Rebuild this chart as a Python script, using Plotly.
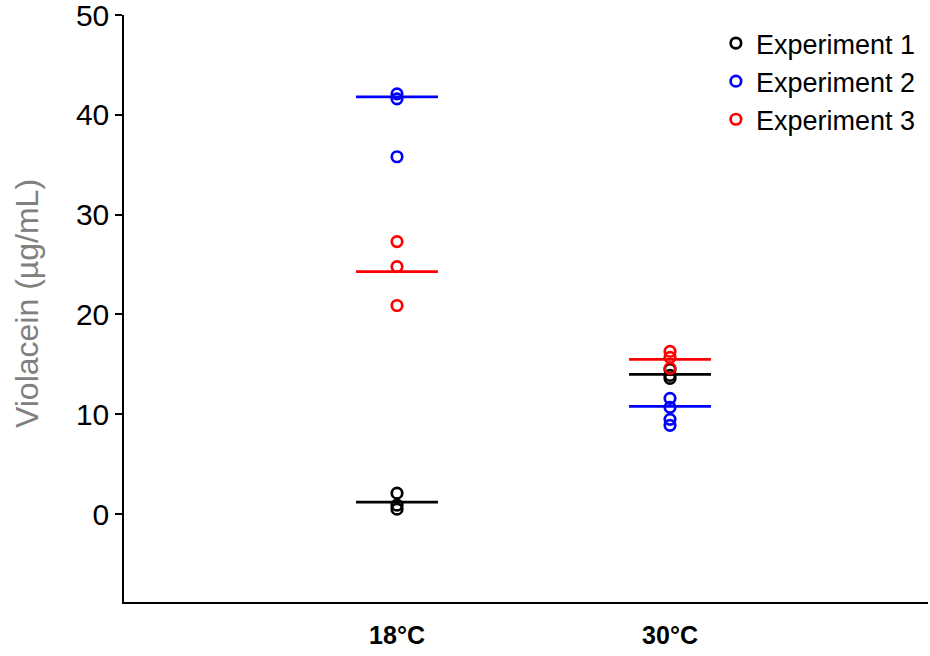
import plotly.graph_objects as go

categories = ["18°C", "30°C"]
cat_pos = [1, 2]

series_names = ["Experiment 1", "Experiment 2", "Experiment 3"]
series_colors = ["#000000", "#0000ff", "#ff0000"]

# individual points per experiment: (category index, value)
exp1_cat = [0, 0, 0, 1, 1, 1]
exp1_val = [2.1, 0.9, 0.5, 14.5, 13.9, 13.6]
exp2_cat = [0, 0, 0, 1, 1, 1, 1]
exp2_val = [42.1, 41.6, 35.8, 11.6, 10.7, 9.5, 8.9]
exp3_cat = [0, 0, 0, 1, 1, 1]
exp3_val = [27.3, 24.8, 20.9, 16.3, 15.7, 14.6]

# horizontal mean bars per experiment (18°C, 30°C)
exp1_mean = [1.2, 14.0]
exp2_mean = [41.8, 10.8]
exp3_mean = [24.3, 15.5]

y_ticks = [0, 10, 20, 30, 40, 50]

cats = [exp1_cat, exp2_cat, exp3_cat]
vals = [exp1_val, exp2_val, exp3_val]
means = [exp1_mean, exp2_mean, exp3_mean]

HALF = 0.15
FONT = "Liberation Sans, Arial, sans-serif"

fig = go.Figure()

for name, color, c, v, m in zip(series_names, series_colors, cats, vals, means):
    for ci, mv in enumerate(m):
        fig.add_trace(go.Scatter(
            x=[cat_pos[ci] - HALF, cat_pos[ci] + HALF], y=[mv, mv],
            mode="lines", line=dict(color=color, width=2.8),
            showlegend=False, hoverinfo="skip"))

for name, color, c, v in zip(series_names, series_colors, cats, vals):
    fig.add_trace(go.Scatter(
        x=[cat_pos[i] for i in c], y=v, mode="markers", name=name,
        marker=dict(symbol="circle-open", size=10.5, color=color,
                    line=dict(width=2.7, color=color))))

fig.update_layout(
    width=930, height=656, autosize=False,
    margin=dict(l=124, r=2, t=15, b=54, autoexpand=False),
    plot_bgcolor="white", paper_bgcolor="white",
    font=dict(family=FONT, color="black"),
    legend=dict(x=0.7362, y=0.9932, xanchor="left", yanchor="top",
                font=dict(size=27, color="black"), bgcolor="rgba(0,0,0,0)",
                tracegroupgap=0, itemwidth=30),
    showlegend=True,
)

fig.update_xaxes(
    range=[0, 2.945], tickvals=cat_pos, ticktext=categories,
    showline=True, linecolor="black", linewidth=1.5,
    showgrid=False, zeroline=False, ticks="", ticklabelstandoff=10,
    tickfont=dict(size=25, family=FONT, color="black", weight="bold"),
)
fig.update_yaxes(
    range=[-8.8, 50], tickvals=y_ticks,
    showline=True, linecolor="black", linewidth=1.5,
    showgrid=False, zeroline=False, ticks="outside", ticklen=7,
    tickwidth=1.5, tickcolor="black", ticklabeloverflow="allow",
    tickfont=dict(size=30, family=FONT, color="black"),
)

fig.add_annotation(
    text="Violacein (µg/mL)", textangle=-90,
    xref="paper", yref="paper", x=-0.1206, y=0.5077,
    xanchor="center", yanchor="middle", showarrow=False,
    font=dict(size=32, family=FONT, color="#808080"))

fig.write_html(
    "out.html",
    config={"responsive": False, "displayModeBar": False},
    post_script="document.body.style.margin='0';document.body.style.overflow='hidden';",
)
